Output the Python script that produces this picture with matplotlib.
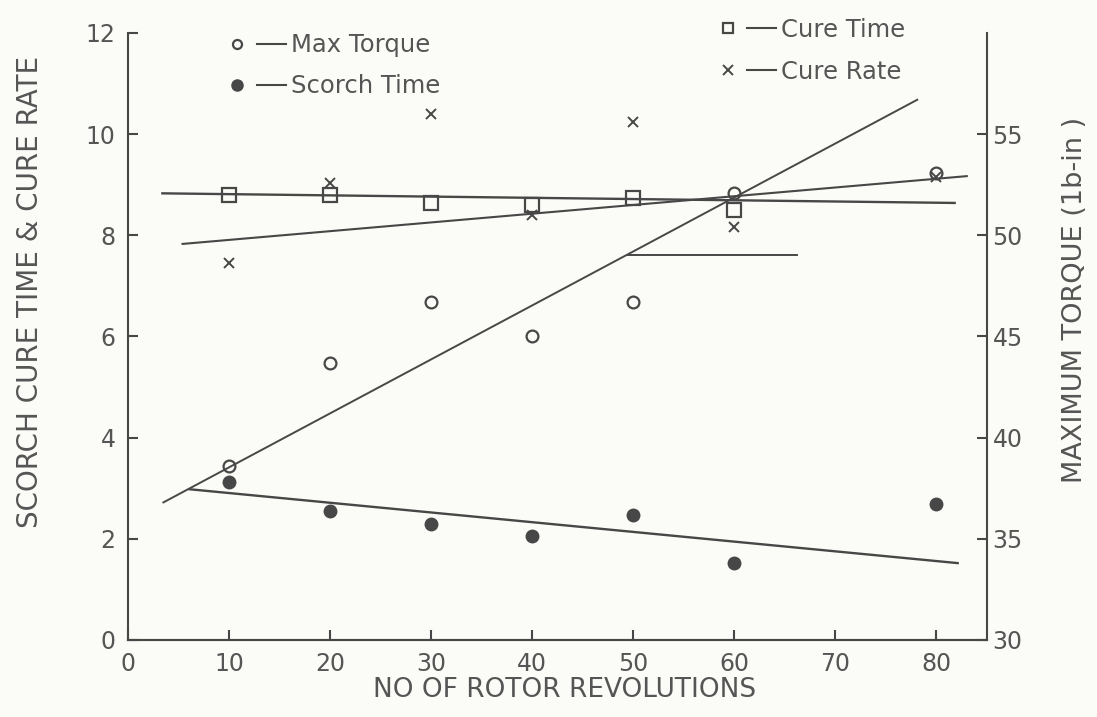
import matplotlib
matplotlib.use('Agg')
import matplotlib.pyplot as plt
from matplotlib.lines import Line2D
from matplotlib.legend_handler import HandlerTuple
import numpy as np

# rotor revolutions
revs = [10, 20, 30, 40, 50, 60, 80]
revs_ct = [10, 20, 30, 40, 50, 60]

max_torque = [38.6, 43.7, 46.7, 45.0, 46.7, 52.1, 53.1]      # right axis (lb-in)
scorch_time = [3.12, 2.55, 2.29, 2.06, 2.47, 1.52, 2.69]
cure_time = [8.79, 8.79, 8.64, 8.60, 8.74, 8.50]
cure_rate = [7.45, 9.03, 10.40, 8.40, 10.24, 8.16, 9.15]

# hand drawn fit lines (end points)
torque_fit_x = [3.5, 78.1]
torque_fit_y = [36.8, 56.7]
scorch_fit_x = [6.1, 82.1]
scorch_fit_y = [2.98, 1.52]
cure_time_fit_x = [3.4, 81.8]
cure_time_fit_y = [8.83, 8.64]
cure_rate_fit_x = [5.4, 83.0]
cure_rate_fit_y = [7.83, 9.17]
stub_x = [49.5, 66.2]
stub_y = [7.61, 7.61]

ink = '#474747'
txt = '#555555'
bg = '#fbfbf8'

plt.rcParams['font.family'] = ['DejaVu Sans']

fig = plt.figure(figsize=(10.97, 7.17), dpi=100, facecolor=bg)
ax = fig.add_axes([0.1167, 0.1074, 0.783, 0.8466], facecolor=bg)
ax2 = ax.twinx()

ax.set_xlim(0, 85)
ax.set_ylim(0, 12)
ax2.set_ylim(30, 60)

# fit lines
ax2.plot(torque_fit_x, torque_fit_y, color=ink, lw=1.4)
ax.plot(scorch_fit_x, scorch_fit_y, color=ink, lw=1.7)
ax.plot(cure_time_fit_x, cure_time_fit_y, color=ink, lw=1.7)
ax.plot(cure_rate_fit_x, cure_rate_fit_y, color=ink, lw=1.5)
ax.plot(stub_x, stub_y, color=ink, lw=1.4)

# points
ax2.plot(revs, max_torque, 'o', ms=8.5, mfc='none', mec=ink, mew=1.6)
ax.plot(revs, scorch_time, 'o', ms=9, mfc=ink, mec=ink)
ax.plot(revs_ct, cure_time, 's', ms=10, mfc='none', mec=ink, mew=1.6)
ax.plot(revs, cure_rate, 'x', ms=7, mec=ink, mew=1.4)

# axes styling
for a in (ax, ax2):
    a.spines['top'].set_visible(False)
    for s in ('left', 'right', 'bottom'):
        a.spines[s].set_color(ink)
        a.spines[s].set_linewidth(1.5)
ax2.spines['left'].set_visible(False)
ax.spines['right'].set_visible(False)

ax.set_xticks([0, 10, 20, 30, 40, 50, 60, 70, 80])
ax.set_yticks([0, 2, 4, 6, 8, 10, 12])
ax2.set_yticks([30, 35, 40, 45, 50, 55])
ax.tick_params(axis='both', direction='in', length=7, width=1.5, color=ink,
               labelcolor=txt, labelsize=17, pad=9)
ax2.tick_params(axis='y', direction='in', length=7, width=1.5, color=ink,
                labelcolor=txt, labelsize=17, pad=4)

fig.text(0.027, 0.593, 'SCORCH CURE TIME & CURE RATE', rotation=90, ha='center', va='center',
         fontsize=20, color=txt)
fig.text(0.98, 0.582, 'MAXIMUM TORQUE (1b-in )', rotation=90, ha='center', va='center',
         fontsize=19.5, color=txt)
fig.text(0.515, 0.038, 'NO OF ROTOR REVOLUTIONS', ha='center', va='center',
         fontsize=19, color=txt)

# legends: marker then a dash
dash = Line2D([], [], color=ink, lw=1.5)
h_tq = Line2D([], [], marker='o', ls='none', ms=6.5, mfc='none', mec=ink, mew=1.6)
h_sc = Line2D([], [], marker='o', ls='none', ms=8, mfc=ink, mec=ink)
h_ct = Line2D([], [], marker='s', ls='none', ms=7.5, mfc='none', mec=ink, mew=1.6)
h_cr = Line2D([], [], marker='x', ls='none', ms=6.5, mec=ink, mew=1.4)

leg1 = fig.legend([(h_tq, dash), (h_sc, dash)], ['Max Torque', 'Scorch Time'],
                  handler_map={tuple: HandlerTuple(ndivide=None, pad=0.2)},
                  loc='upper left', bbox_to_anchor=(0.183, 0.984), frameon=False,
                  fontsize=17.5, labelcolor=txt, handlelength=2.6, handletextpad=0.2,
                  labelspacing=0.7)
leg2 = fig.legend([(h_ct, dash), (h_cr, dash)], ['Cure Time', 'Cure Rate'],
                  handler_map={tuple: HandlerTuple(ndivide=None, pad=0.2)},
                  loc='upper left', bbox_to_anchor=(0.63, 1.006), frameon=False,
                  fontsize=17.5, labelcolor=txt, handlelength=2.6, handletextpad=0.2,
                  labelspacing=0.75)

fig.savefig('out.png', dpi=100, facecolor=bg)
